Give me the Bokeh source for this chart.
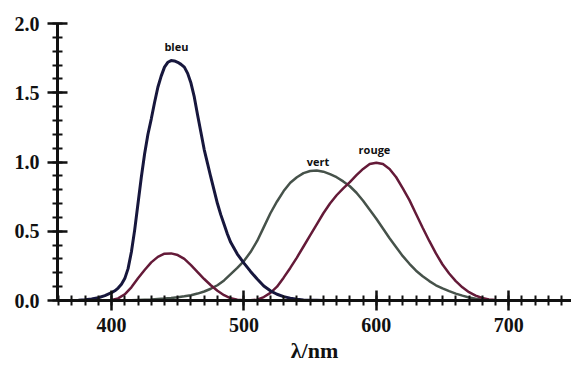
from bokeh.plotting import figure
from bokeh.models import Range1d, SingleIntervalTicker, PrintfTickFormatter
from bokeh.embed import file_html
from bokeh.resources import INLINE
from bokeh.core.properties import value

# wavelength grid (nm) for the red and green curves
WAVELENGTH = list(range(360, 725, 5))

# finer wavelength grid (nm) for the steep blue curve
WAVELENGTH_BLEU = [360, 365, 370, 375, 380, 385, 390, 395, 400, 402.5,
                   405, 407.5, 410, 412.5, 415, 417.5, 420, 422.5, 425, 427.5,
                   430, 432.5, 435, 437.5, 440, 442.5, 445, 447.5, 450, 452.5,
                   455, 457.5, 460, 462.5, 465, 467.5, 470, 472.5, 475, 477.5,
                   480, 482.5, 485, 487.5, 490, 495, 500, 505, 510, 515,
                   520, 525, 530, 535, 540, 545, 550, 555, 560, 720]

BLEU = [0, 0, 0, 0.002, 0.005, 0.011, 0.02, 0.035, 0.056, 0.07,
        0.09, 0.117, 0.158, 0.23, 0.35, 0.51, 0.70, 0.89, 1.06, 1.20,
        1.31, 1.43, 1.54, 1.62, 1.685, 1.72, 1.732, 1.73, 1.72, 1.705,
        1.685, 1.64, 1.57, 1.47, 1.34, 1.215, 1.09, 0.99, 0.89, 0.795,
        0.70, 0.62, 0.55, 0.48, 0.42, 0.335, 0.27, 0.21, 0.155, 0.105,
        0.07, 0.045, 0.028, 0.017, 0.009, 0.004, 0.002, 0.001, 0, 0]

ROUGE = [0, 0, 0, 0, 0, 0, 0, 0.001,
         0.004, 0.015, 0.045, 0.095, 0.16, 0.22, 0.275, 0.315, 0.338, 0.34,
         0.328, 0.30, 0.255, 0.205, 0.155, 0.11, 0.07, 0.038, 0.016, 0.005,
         0.001, 0.001, 0.006, 0.025, 0.055, 0.10, 0.165, 0.235, 0.31, 0.39,
         0.47, 0.55, 0.63, 0.70, 0.76, 0.81, 0.855, 0.905, 0.95, 0.985,
         0.995, 0.985, 0.95, 0.89, 0.81, 0.725, 0.625, 0.525, 0.43, 0.34,
         0.26, 0.195, 0.14, 0.095, 0.06, 0.035, 0.018, 0.008, 0.003, 0.001,
         0, 0, 0, 0, 0]

VERT = [0, 0, 0, 0, 0, 0, 0, 0, 0, 0, 0, 0.002,
        0.004, 0.006, 0.008, 0.011, 0.014, 0.018, 0.023, 0.03, 0.038, 0.05,
        0.065, 0.085, 0.11, 0.145, 0.19, 0.235, 0.285, 0.35, 0.43, 0.53,
        0.63, 0.715, 0.79, 0.85, 0.89, 0.92, 0.935, 0.938, 0.93, 0.912,
        0.89, 0.86, 0.825, 0.778, 0.72, 0.655, 0.59, 0.52, 0.45, 0.385,
        0.32, 0.265, 0.215, 0.175, 0.14, 0.11, 0.088, 0.068, 0.05, 0.035,
        0.022, 0.012, 0.006, 0.003, 0.001,
        0, 0, 0, 0, 0, 0]

LABELS = ["bleu", "vert", "rouge"]
LABEL_X = [449.0, 556.0, 598.6]
LABEL_Y = [1.835, 1.006, 1.09]

p = figure(width=571, height=365, output_backend="svg", toolbar_location=None,
           x_range=Range1d(359.2, 747.4), y_range=Range1d(0, 2.0),
           min_border_left=57, min_border_right=0, min_border_top=23,
           min_border_bottom=63)

p.outline_line_color = None
p.xgrid.visible = False
p.ygrid.visible = False
p.background_fill_color = "white"

p.xaxis.ticker = SingleIntervalTicker(interval=100, num_minor_ticks=10)
p.yaxis.ticker = SingleIntervalTicker(interval=0.5, num_minor_ticks=5)
p.yaxis.formatter = PrintfTickFormatter(format="%.1f")

for ax in (p.xaxis[0], p.yaxis[0]):
    ax.axis_line_width = 3
    ax.axis_line_color = "#111111"
    ax.major_tick_line_width = 2.5
    ax.major_tick_line_color = "#111111"
    ax.major_tick_in = 10
    ax.major_tick_out = 10
    ax.minor_tick_line_width = 2
    ax.minor_tick_line_color = "#111111"
    ax.minor_tick_in = 5
    ax.minor_tick_out = 5
    ax.major_label_text_font = "Liberation Serif"
    ax.major_label_text_font_style = "bold"
    ax.major_label_text_font_size = "20px"
    ax.major_label_text_color = "#111111"

p.xaxis.major_label_standoff = 7
p.yaxis.major_label_standoff = 8
p.xaxis.axis_label = "λ/nm"
p.xaxis.axis_label_text_font = "Liberation Serif"
p.xaxis.axis_label_text_font_style = "bold"
p.xaxis.axis_label_text_font_size = "22px"
p.xaxis.axis_label_text_color = "#111111"
p.xaxis.axis_label_standoff = 3

p.line(WAVELENGTH, VERT, line_color="#46524a", line_width=2.5)
p.line(WAVELENGTH, ROUGE, line_color="#641a38", line_width=2.5)
p.line(WAVELENGTH_BLEU, BLEU, line_color="#17173d", line_width=3)

p.text(x=LABEL_X, y=LABEL_Y, text=LABELS, text_font=value("Open Sans"),
       text_font_style="bold", text_font_size="11px", text_color="#111111",
       text_align="center", text_baseline="middle")

open("out.html", "w").write(file_html(p, INLINE))
